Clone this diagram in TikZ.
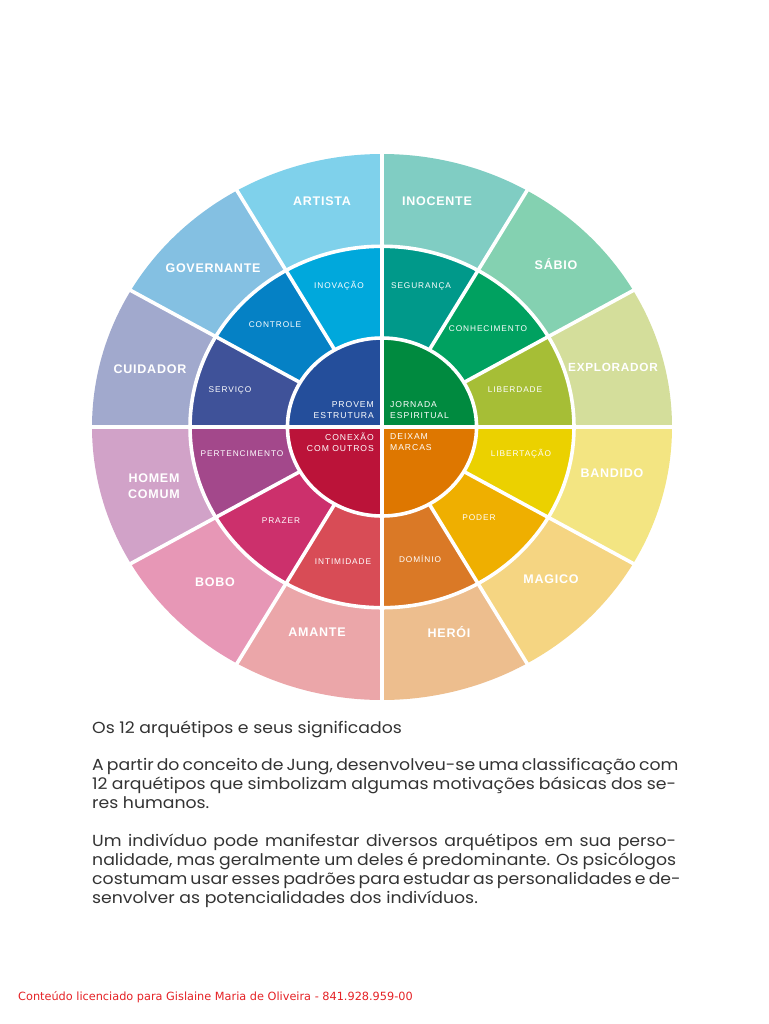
\documentclass[tikz,border=0pt]{standalone}
\usepackage{fontspec}
\setmainfont[FakeStretch=1.08]{Poppins}
\newfontfamily\outerfont[LetterSpace=6]{Liberation Sans}
\newfontfamily\midfont[LetterSpace=11]{Liberation Sans}
\newfontfamily\footfont{DejaVu Sans}
% outer ring
\definecolor{oArtista}{HTML}{7FD1EB}
\definecolor{oInocente}{HTML}{80CDC3}
\definecolor{oSabio}{HTML}{84D1B1}
\definecolor{oExplorador}{HTML}{D4DE9B}
\definecolor{oBandido}{HTML}{F3E582}
\definecolor{oMagico}{HTML}{F5D582}
\definecolor{oHeroi}{HTML}{EDBE8E}
\definecolor{oAmante}{HTML}{EBA6A9}
\definecolor{oBobo}{HTML}{E797B6}
\definecolor{oHomem}{HTML}{D1A2C8}
\definecolor{oCuidador}{HTML}{A1A9CD}
\definecolor{oGovernante}{HTML}{84C0E2}
% middle ring
\definecolor{mInovacao}{HTML}{00A8DC}
\definecolor{mSeguranca}{HTML}{00998A}
\definecolor{mConhecimento}{HTML}{00A160}
\definecolor{mLiberdade}{HTML}{A6BE36}
\definecolor{mLibertacao}{HTML}{EBD100}
\definecolor{mPoder}{HTML}{EFAF00}
\definecolor{mDominio}{HTML}{DA7926}
\definecolor{mIntimidade}{HTML}{D84C56}
\definecolor{mPrazer}{HTML}{CC306C}
\definecolor{mPertencimento}{HTML}{A3488B}
\definecolor{mServico}{HTML}{3F5299}
\definecolor{mControle}{HTML}{0581C5}
% inner
\definecolor{iProvem}{HTML}{244E9B}
\definecolor{iJornada}{HTML}{008A3F}
\definecolor{iConexao}{HTML}{BB1339}
\definecolor{iDeixam}{HTML}{DE7700}
\definecolor{bodygray}{HTML}{333333}
\definecolor{footred}{HTML}{E52226}
\tikzset{
  outerlab/.style={text=white, inner sep=0pt, align=center,
    font=\outerfont\bfseries\fontsize{12.5}{16}\selectfont},
  midlab/.style={text=white, inner sep=0pt,
    font=\midfont\fontsize{8.3}{10}\selectfont},
  innerlab/.style={text=white, inner sep=0pt,
    font=\midfont\fontsize{8.6}{11}\selectfont},
  gapline/.style={white, line width=3.6pt},
  bodytext/.style={text=bodygray, inner sep=0pt, align=left,
    font=\fontsize{16}{19}\selectfont},
  foottext/.style={text=footred, inner sep=0pt,
    font=\footfont\fontsize{11.3}{13}\selectfont}
}
\begin{document}
\begin{tikzpicture}[x=1pt,y=-1pt]
\useasboundingbox[fill=white] (0,0) rectangle (768,1024);
\begin{scope}[shift={(382,427)}]
\begin{scope}[xscale=290,yscale=-273]
  % outer ring
  \foreach \a/\c in {60/oInocente,90/oArtista,120/oGovernante,150/oCuidador,
      180/oHomem,210/oBobo,240/oAmante,270/oHeroi,300/oMagico,330/oBandido,
      0/oExplorador,30/oSabio}
    \fill[\c] (0,0) -- (\a:1) arc[start angle=\a, delta angle=30, radius=1] -- cycle;
  % middle ring
  \foreach \a/\c in {60/mSeguranca,90/mInovacao,120/mControle,150/mServico,
      180/mPertencimento,210/mPrazer,240/mIntimidade,270/mDominio,300/mPoder,
      330/mLibertacao,0/mLiberdade,30/mConhecimento}
    \fill[\c] (0,0) -- (\a:0.662) arc[start angle=\a, delta angle=30, radius=0.662] -- cycle;
  % inner quadrants
  \foreach \a/\c in {0/iJornada,90/iProvem,180/iConexao,270/iDeixam}
    \fill[\c] (0,0) -- (\a:0.326) arc[start angle=\a, delta angle=90, radius=0.326] -- cycle;
  % white separators
  \draw[gapline] (0,0) circle[radius=0.662];
  \draw[gapline] (0,0) circle[radius=0.326];
  \foreach \a in {30,60,120,150,210,240,300,330}
    \draw[gapline] (\a:0.326) -- (\a:1.02);
  \foreach \a in {0,90,180,270}
    \draw[gapline] (0,0) -- (\a:1.02);
\end{scope}
\end{scope}
% outer labels
\node[outerlab] (artista) at (322,201) {ARTISTA};
\node[outerlab] (inocente) at (437,201) {INOCENTE};
\node[outerlab] (sabio) at (556,264) {SÁBIO};
\node[outerlab, font=\outerfont\bfseries\fontsize{11.8}{16}\selectfont] (explorador) at (613,367) {EXPLORADOR};
\node[outerlab] (bandido) at (612,473) {BANDIDO};
\node[outerlab] (magico) at (551,579) {MAGICO};
\node[outerlab] (heroi) at (449,632) {HERÓI};
\node[outerlab] (amante) at (317,632) {AMANTE};
\node[outerlab] (bobo) at (215,582) {BOBO};
\node[outerlab] (homem) at (154,486) {HOMEM\\COMUM};
\node[outerlab] (cuidador) at (150,369) {CUIDADOR};
\node[outerlab] (governante) at (213,268) {GOVERNANTE};
% middle labels
\node[midlab] (inovacao) at (339,286) {INOVAÇÃO};
\node[midlab] (seguranca) at (421,286) {SEGURANÇA};
\node[midlab] (conhecimento) at (488,329) {CONHECIMENTO};
\node[midlab] (liberdade) at (515,390) {LIBERDADE};
\node[midlab] (libertacao) at (521,454) {LIBERTAÇÃO};
\node[midlab] (poder) at (479,518) {PODER};
\node[midlab] (dominio) at (420,559) {DOMÍNIO};
\node[midlab] (intimidade) at (343,562) {INTIMIDADE};
\node[midlab] (prazer) at (281,521) {PRAZER};
\node[midlab] (pertencimento) at (242,454) {PERTENCIMENTO};
\node[midlab] (servico) at (230,390) {SERVIÇO};
\node[midlab] (controle) at (275,325) {CONTROLE};
% inner labels
\node[innerlab, align=right, anchor=east] (provem) at (374,410.5) {PROVEM\\ESTRUTURA};
\node[innerlab, align=left, anchor=west] (jornada) at (390,410.5) {JORNADA\\ESPIRITUAL};
\node[innerlab, align=right, anchor=east] (conexao) at (374,442) {CONEXÃO\\COM OUTROS};
\node[innerlab, align=left, anchor=west] (deixam) at (390,442) {DEIXAM\\MARCAS};
% text below
\node[bodytext, anchor=north west] (title) at (92,721) {Os 12 arquétipos e seus significados};
\node[bodytext, anchor=north west] (para1) at (92,758) {%
\hbox to 584pt{A partir do conceito de Jung, desenvolveu-se uma classificação com}\\
\hbox to 584pt{12 arquétipos que simbolizam algumas motivações básicas dos se-}\\
res humanos.};
\node[bodytext, anchor=north west] (para2) at (92,834) {%
\hbox to 584pt{Um indivíduo pode manifestar diversos arquétipos em sua perso-}\\
\hbox to 584pt{nalidade, mas geralmente um deles é predominante. Os psicólogos}\\
\hbox to 584pt{costumam usar esses padrões para estudar as personalidades e de-}\\
senvolver as potencialidades dos indivíduos.};
\node[foottext, anchor=west] (footer) at (18,997) {Conteúdo licenciado para Gislaine Maria de Oliveira - 841.928.959-00};
\end{tikzpicture}
\end{document}
